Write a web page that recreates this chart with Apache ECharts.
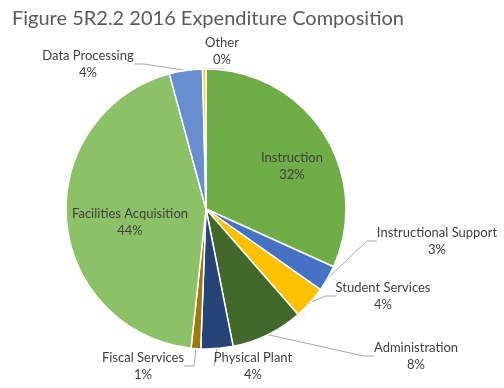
<!DOCTYPE html>
<html><head><meta charset="utf-8">
<script src="https://cdn.jsdelivr.net/npm/echarts@6/dist/echarts.min.js"></script>
<style>html,body{margin:0;padding:0;background:#fff}#c{width:504px;height:388px}</style>
</head><body><div id="c"></div>
<script>
const titleText = 'Figure 5R2.2 2016 Expenditure Composition';
const categories = ['Instruction','Instructional Support','Student Services','Administration','Physical Plant','Fiscal Services','Facilities Acquisition','Data Processing','Other'];
const values = [31.7, 3.0, 3.8, 8.3, 3.7, 1.1, 44.0, 3.8, 0.4];
const colors = ['#70AD47','#4472C4','#FFC000','#43682B','#264478','#9E7A0C','#8CC168','#698ED0','#FFCD33'];
const insideLabels = [true,false,false,false,false,false,true,false,false];
const labelPos = [
  [292,166],[437,241],[383,296],[416,356],
  [253,366],[143,366],[130,222],[88,64],[222,51]
];
const chart = echarts.init(document.getElementById('c'));
chart.setOption({
  animation:false,
  title:{text:titleText,left:7,top:4,textStyle:{fontFamily:'Lato',fontSize:20,fontWeight:'normal',color:'#595959'}},
  series:[{
    type:'pie',center:[206,209],radius:140,startAngle:90,clockwise:true,
    percentPrecision:0,
    itemStyle:{borderColor:'#fff',borderWidth:1.5},
    label:{formatter:'{b}\n{d}%',fontFamily:'Lato',fontSize:13,color:'#404040',lineHeight:17,align:'center',overflow:'none'},
    labelLine:{show:true,lineStyle:{color:'#A6A6A6',width:1},length:10,length2:10},
    labelLayout:function(p){
      const q=labelPos[p.dataIndex];
      return {x:q[0],y:q[1],align:'center',verticalAlign:'middle'};
    },
    data:categories.map((c,i)=>({name:c,value:values[i],itemStyle:{color:colors[i]},
      label:{position:insideLabels[i]?'inside':'outside'},labelLine:{show:!insideLabels[i]}}))
  }]
});
</script></body></html>
